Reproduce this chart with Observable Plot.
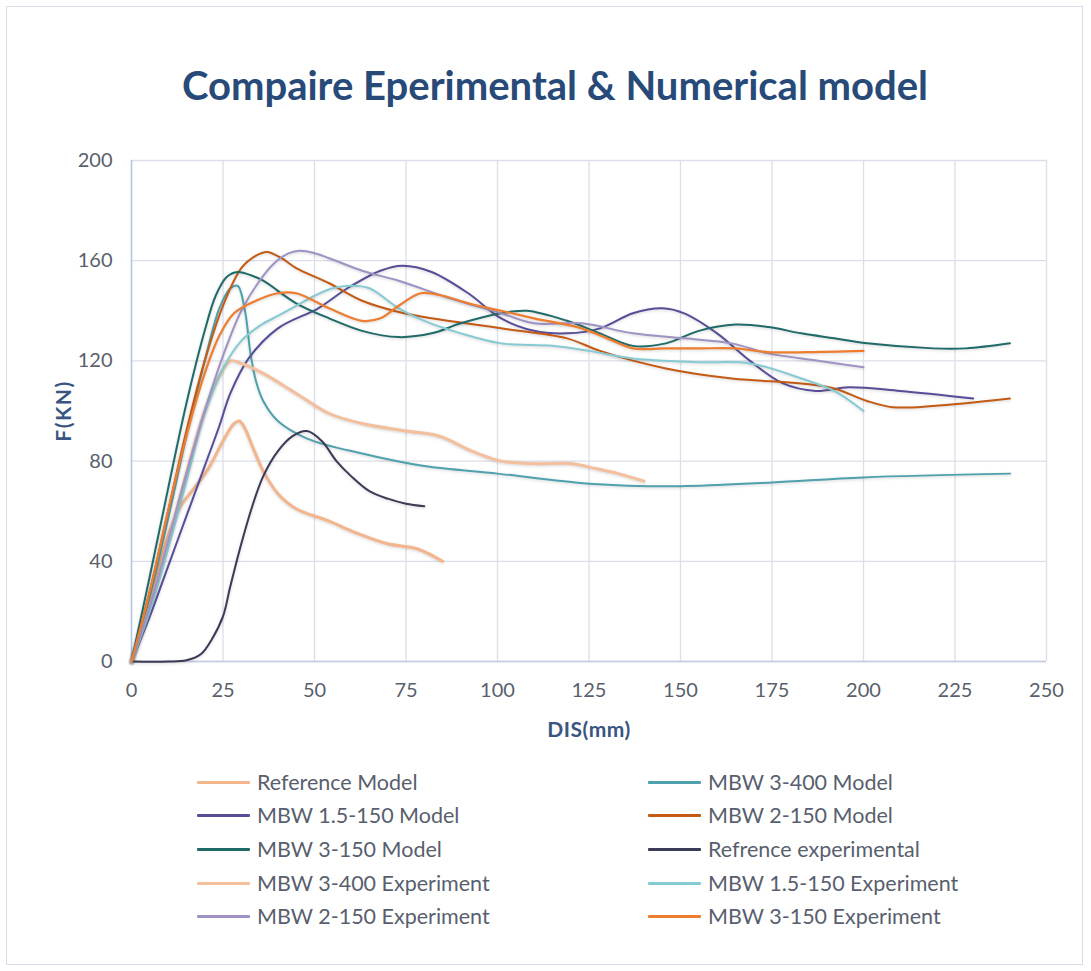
<!DOCTYPE html>
<html>
<head>
<meta charset="utf-8">
<script src="https://cdn.jsdelivr.net/npm/d3@7"></script>
<script src="https://cdn.jsdelivr.net/npm/@observablehq/plot@0.6"></script>
<style>
  html, body { margin: 0; padding: 0; background: #fff; }
  #wrap { position: relative; width: 1091px; height: 971px; overflow: hidden; font-family: Lato, "Open Sans", sans-serif; }
  #frame { position: absolute; left: 6px; top: 6px; width: 1077px; height: 959px; border: 1px solid #d9dce9; box-sizing: border-box; }
  #title { position: absolute; left: 0; width: 1110px; top: 85px; transform: translateY(-50%); text-align: center; font-weight: 700; font-size: 40px; color: #284a78; }
  #ylab { position: absolute; left: 62px; top: 411px; transform: translate(-50%, -50%) rotate(-90deg); font-weight: 700; font-size: 21px; letter-spacing: 1.5px; color: #3a5580; white-space: nowrap; }
  #xlab { position: absolute; left: 589px; top: 728px; transform: translate(-50%, -50%); font-weight: 700; font-size: 21px; letter-spacing: 0.5px; color: #3a5580; white-space: nowrap; }
  #chart { position: absolute; left: 0; top: 140px; }
  .glow path { filter: drop-shadow(0px 1.5px 1.5px rgba(60,60,60,0.22)); }
  #legend { position: absolute; left: 0; top: 0; }
  .li { position: absolute; height: 26px; display: flex; align-items: center; font-size: 21.5px; color: #595f6e; white-space: nowrap; }
  .sw { width: 53px; height: 3px; margin-right: 7px; border-radius: 1px; }
</style>
</head>
<body>
<div id="wrap">
  <div id="frame"></div>
  <div id="title">Compaire Eperimental &amp; Numerical model</div>
  <div id="chart"></div>
  <div id="ylab">F(KN)</div>
  <div id="xlab">DIS(mm)</div>
  <div id="legend"></div>
</div>
<script>
// ---- data (x = DIS mm, y = F kN) ----
const seriesNames = [
  "Reference Model", "MBW 3-400 Model",
  "MBW 1.5-150 Model", "MBW 2-150 Model",
  "MBW 3-150 Model", "Refrence experimental",
  "MBW 3-400 Experiment", "MBW 1.5-150 Experiment",
  "MBW 2-150 Experiment", "MBW 3-150 Experiment"
];
const seriesColors = [
  "#f3b58c", "#4fa2ad",
  "#574e98", "#c45a14",
  "#1f6b69", "#3b3b56",
  "#f4bf9c", "#86cbd3",
  "#9f92c4", "#ee7d2f"
];
const seriesWidths = [3, 2, 2, 2, 2, 2, 3, 2, 2, 2.2];
const xTicks = [0, 25, 50, 75, 100, 125, 150, 175, 200, 225, 250];
const yTicks = [0, 40, 80, 120, 160, 200];

const referenceModel = [[0,0],[5,25],[10,50],[13,61],[17,69],[21,77],[25,88],[28,95],[29.5,96],[31,93],[33,86],[36,76],[40,67],[45,61],[54,56],[62,51],[70,47],[78,45],[85,40]];
const mbw3_400Model = [[0,0],[5,26],[10,57],[15,90],[20,120],[24,141],[27,149],[29,150],[31,140],[32.5,123],[34,112],[36,104],[40,96],[48,89],[63,83],[80,78],[100,75],[125,71],[150,70],[175,71.5],[200,73.5],[240,75]];
const mbw15_150Model = [[0,0],[5,18],[10,38],[15,58],[20,78],[24,94],[27,107],[32,121],[40,133],[51,141],[59,149],[68,156],[74,158],[82,155.5],[92,147],[101,137],[110,132],[119,131],[128,133],[137,139],[145,141],[151,139],[160,131],[169,120],[178,111],[187,108],[196,109.5],[210,108],[230,105]];
const mbw2_150Model = [[0,0],[5,28],[10,60],[15,92],[20,120],[25,142],[30,157],[34,162],[37,163.5],[41,161],[45,157],[54,151],[63,144],[73,139.5],[82,137],[101,133],[119,129],[128,124],[146,117],[164,113],[183,111],[192,109],[201,104],[208,101.5],[219,102],[240,105]];
const mbw3_150Model = [[0,0],[5,34],[10,69],[15,103],[20,132],[23,146],[26,153.5],[29,155.5],[33,154],[36,152],[45,143],[54,137],[63,132],[73,129.5],[82,131],[90,135],[101,139],[108,140],[119,136],[128,131],[137,126],[146,127],[155,132],[165,134.5],[174,133.5],[183,131],[192,129],[201,127],[219,125],[228,125],[240,127]];
const referenceExperimental = [[0,0],[10,0],[15,0.5],[19,3],[22,9],[25,18],[27,30],[30,47],[33,62],[36,74],[40,84],[44,90],[48,92],[52,88],[56,80],[60,74],[65,68],[70,65],[75,63],[80,62]];
const mbw3_400Experiment = [[0,0],[5,22],[10,48],[15,75],[20,100],[24,114],[27,120],[30,119],[36,115],[45,107],[54,99],[63,95],[75,92],[84,90],[93,84],[101,80],[110,79],[120,79],[127,77],[133,75],[140,72]];
const mbw15_150Experiment = [[0,0],[5,20],[10,45],[15,72],[20,99],[25,117],[30,128],[35,134],[40,138],[45,142],[50,146],[55,149],[60,150],[65,149],[73,141],[80,136],[90,131],[101,127],[115,126],[125,124],[137,121],[155,119.5],[169,119],[183,113],[192,108],[200,100]];
const mbw2_150Experiment = [[0,0],[5,22],[10,48],[15,75],[20,100],[25,122],[30,140],[35,152],[39,159],[43,163],[46,164],[50,163],[54,161],[63,156],[73,152],[87,145],[101,139],[110,135],[123,135],[137,131],[151,129],[164,127],[174,123],[188,120],[200,117.5]];
const mbw3_150Experiment = [[0,0],[5,28],[10,60],[15,90],[20,115],[24,130],[28,139],[34,144],[40,147],[45,147],[54,141],[63,136],[68,137],[73,142],[79,147],[85,146],[92,143],[101,140],[110,137],[123,133],[130,129],[137,125],[146,125],[155,125],[165,125],[174,123.5],[185,123.5],[200,124]];

const seriesData = [referenceModel, mbw3_400Model, mbw15_150Model, mbw2_150Model, mbw3_150Model,
  referenceExperimental, mbw3_400Experiment, mbw15_150Experiment, mbw2_150Experiment, mbw3_150Experiment];

// ---- chart ----
const lineMarks = seriesData.map((pts, i) => Plot.line(pts, {
  x: d => d[0], y: d => d[1],
  stroke: seriesColors[i], strokeWidth: seriesWidths[i],
  curve: "catmull-rom", className: "glow"
}));

const chart = Plot.plot({
  width: 1091, height: 640,
  marginLeft: 131, marginRight: 45, marginTop: 20, marginBottom: 119,
  style: { fontFamily: "Lato, 'Open Sans', sans-serif", fontSize: "20px", color: "#5a5f6c", background: "transparent" },
  x: { domain: [0, 250], ticks: xTicks, tickSize: 0, tickPadding: 21, label: null },
  y: { domain: [0, 200], ticks: yTicks, tickSize: 0, tickPadding: 19, label: null },
  marks: [
    Plot.gridX(xTicks, { stroke: "#dcdfe9", strokeOpacity: 1, strokeWidth: 1.3 }),
    Plot.gridY(yTicks, { stroke: "#dcdfe9", strokeOpacity: 1, strokeWidth: 1.3 }),
    Plot.ruleX([0], { stroke: "#b7c6e4", strokeWidth: 1.5 }),
    Plot.ruleY([0], { stroke: "#c3cce0", strokeWidth: 1.5 }),
    ...lineMarks
  ]
});
document.getElementById("chart").appendChild(chart);

// ---- legend ----
const legend = document.getElementById("legend");
const rowY = [782, 815, 849, 883, 916];
const colX = [197, 648];
seriesNames.forEach((name, i) => {
  const row = Math.floor(i / 2), col = i % 2;
  const el = document.createElement("div");
  el.className = "li";
  el.style.left = colX[col] + "px";
  el.style.top = (rowY[row] - 13) + "px";
  const sw = document.createElement("div");
  sw.className = "sw";
  sw.style.background = seriesColors[i];
  const t = document.createElement("span");
  t.textContent = name;
  el.appendChild(sw); el.appendChild(t);
  legend.appendChild(el);
});
</script>
</body>
</html>
